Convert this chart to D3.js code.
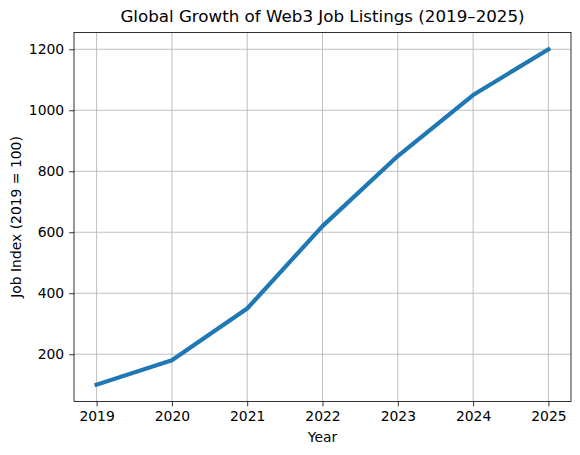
<!DOCTYPE html>
<html><head><meta charset="utf-8">
<script src="https://cdn.jsdelivr.net/npm/d3@7"></script>
<style>body{margin:0;background:#fff}svg{display:block}text{font-family:"DejaVu Sans",sans-serif;fill:#000}</style>
</head><body>
<svg id="c" width="580" height="455"></svg>
<script>
const years = [2019, 2020, 2021, 2022, 2023, 2024, 2025];
const jobIndex = [100, 180, 350, 620, 850, 1050, 1200];
const yTicks = [200, 400, 600, 800, 1000, 1200];

const svg = d3.select("#c");
const L = 74, R = 571, T = 32.5, B = 401.5;
const x = d3.scaleLinear().domain([2018.7, 2025.3]).range([L, R]);
const y = d3.scaleLinear().domain([45, 1255]).range([B, T]);

// grid
svg.append("g").selectAll("line").data(years).join("line")
  .attr("x1", d => x(d)).attr("x2", d => x(d)).attr("y1", T).attr("y2", B)
  .attr("stroke", "#b0b0b0").attr("stroke-width", 0.8);
svg.append("g").selectAll("line").data(yTicks).join("line")
  .attr("y1", d => y(d)).attr("y2", d => y(d)).attr("x1", L).attr("x2", R)
  .attr("stroke", "#b0b0b0").attr("stroke-width", 0.8);

// line
const line = d3.line().x((d, i) => x(years[i])).y(d => y(d));
svg.append("path").datum(jobIndex).attr("d", line)
  .attr("fill", "none").attr("stroke", "#1f77b4").attr("stroke-width", 4.2)
  .attr("stroke-linecap", "square").attr("stroke-linejoin", "round");

// axes
const xAxis = d3.axisBottom(x).tickValues(years).tickFormat(d3.format("d")).tickSize(4.9).tickPadding(4.9);
const yAxis = d3.axisLeft(y).tickValues(yTicks).tickFormat(d3.format("d")).tickSize(4.9).tickPadding(4.9);
const gx = svg.append("g").attr("transform", `translate(0,${B})`).call(xAxis);
const gy = svg.append("g").attr("transform", `translate(${L},0)`).call(yAxis);
[gx, gy].forEach(g => {
  g.select(".domain").remove();
  g.selectAll("line").attr("stroke", "#000").attr("stroke-width", 0.8);
  g.selectAll("text").attr("font-size", 13.9).attr("font-family", "DejaVu Sans").attr("fill", "#000");
});

// spines
svg.append("rect").attr("x", L).attr("y", T).attr("width", R - L).attr("height", B - T)
  .attr("fill", "none").attr("stroke", "#000").attr("stroke-width", 0.8);

// labels
svg.append("text").attr("x", (L + R) / 2).attr("y", 22).attr("text-anchor", "middle")
  .attr("font-size", 16.7).text("Global Growth of Web3 Job Listings (2019–2025)");
svg.append("text").attr("x", (L + R) / 2).attr("y", 442).attr("text-anchor", "middle")
  .attr("font-size", 13.9).text("Year");
svg.append("text").attr("transform", `translate(21,${(T + B) / 2}) rotate(-90)`).attr("text-anchor", "middle")
  .attr("font-size", 13.9).text("Job Index (2019 = 100)");
</script>
</body></html>
